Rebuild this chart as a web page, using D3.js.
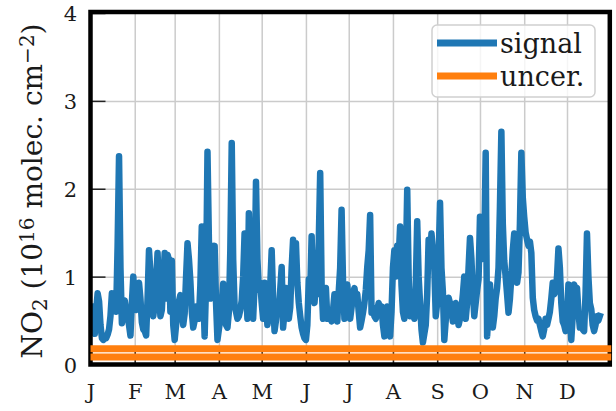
<!DOCTYPE html>
<html>
<head>
<meta charset="utf-8">
<script src="https://cdn.jsdelivr.net/npm/d3@7"></script>
<style>
  body { margin: 0; background: #fff; }
</style>
</head>
<body>
<svg id="chart" width="616" height="411"></svg>
<script>
// month starts (day of year) and their labels
var monthTicks = [0, 31, 59, 90, 120, 151, 181, 212, 243, 273, 304, 334];
var monthLabels = ["J", "F", "M", "A", "M", "J", "J", "A", "S", "O", "N", "D"];
var yTicks = [0, 1, 2, 3, 4];

// daily NO2 signal, 1e16 molec/cm2 (null = no data)
var signalJan = [null, null, 0.66, 0.35, 0.62, 0.81, 0.72, 0.45, 0.30, 0.28, 0.33, 0.30, 0.34, 0.40, 0.55, 0.81, 0.70, 0.78, 0.60, 1.35, 2.37, 1.10, 0.47, 0.62, 0.73, 0.60, 0.54, 0.45, 0.33, 0.70, 1.00];
var signalFeb = [0.70, 0.62, 0.80, 0.93, 0.75, 0.48, 0.40, 0.38, 0.33, 0.75, 1.30, 1.05, 0.70, 0.55, 0.68, 0.95, 1.27, 0.85, 0.55, 0.62, 0.95, 1.27, 0.75, 1.25, 1.19, 0.60, 1.18, 0.45];
var signalMar = [0.28, 0.45, 0.60, 0.72, 0.79, 0.62, 0.45, 0.58, 1.00, 1.38, 1.20, 0.95, 0.60, 0.42, 0.50, 0.66, 0.58, 0.52, 0.90, 1.57, 0.85, 0.32, 0.90, 2.42, 1.40, 0.75, 1.35, 1.10, 1.35, 0.70, 0.28];
var signalApr = [0.40, 0.52, 0.70, 0.92, 0.65, 0.45, 0.42, 0.60, 1.30, 2.52, 1.20, 0.66, 0.60, 0.52, 0.55, 0.62, 0.73, 1.00, 1.49, 0.90, 0.52, 1.72, 1.10, 0.60, 0.52, 0.90, 2.08, 1.20, 0.85, 0.93];
var signalMay = [0.70, 0.52, 0.93, 0.70, 0.45, 0.55, 0.90, 1.30, 0.75, 0.38, 0.50, 0.66, 0.60, 0.85, 1.11, 0.42, 0.60, 0.87, 0.70, 0.52, 0.65, 1.10, 1.42, 1.25, 1.38, 0.93, 0.70, 0.55, 0.42, 0.35, 0.30];
var signalJun = [0.28, 0.45, 0.97, 0.80, 1.46, 0.83, 0.70, 0.93, 0.80, 1.40, 2.18, 0.90, 0.52, 0.65, 0.87, 0.52, 0.60, 0.55, 0.49, 0.62, 0.80, 0.65, 0.49, 0.83, 1.10, 1.76, 0.95, 0.52, 0.80, 0.91];
var signalJul = [0.70, 0.52, 0.65, 0.80, 0.87, 0.75, 0.80, 0.60, 0.42, 0.50, 0.59, 0.70, 0.85, 1.11, 1.30, 1.70, 0.59, 0.65, 0.55, 0.52, 0.62, 0.70, 0.60, 0.66, 0.45, 0.32, 0.50, 0.66, 0.45, 0.32, 0.60];
var signalAug = [1.10, 1.30, 1.00, 1.35, 1.20, 1.57, 0.90, 0.60, 0.52, 1.10, 1.99, 1.00, 0.55, 0.62, 0.58, 0.52, 0.90, 1.63, 1.00, 0.70, 0.40, 0.25, 0.35, 0.45, 0.80, 1.42, 1.20, 1.49, 1.30, 1.11, 0.55];
var signalSep = [0.70, 1.20, 1.84, 1.10, 0.83, 0.28, 0.50, 0.65, 0.76, 0.70, 0.66, 0.49, 0.62, 0.70, 0.55, 0.45, 0.52, 0.63, 0.80, 1.00, 0.52, 0.70, 1.10, 1.44, 1.20, 0.83, 0.55, 0.70, 0.85, 0.97];
var signalOct = [1.68, 1.20, 1.65, 1.30, 2.41, 0.32, 0.60, 0.91, 0.65, 0.42, 0.55, 0.75, 0.87, 1.10, 1.80, 2.65, 1.60, 1.18, 1.00, 0.80, 0.59, 0.75, 1.00, 1.30, 1.49, 1.20, 0.93, 1.05, 1.60, 2.41, 1.90];
var signalNov = [1.68, 1.50, 1.42, 1.35, 1.40, 1.27, 0.76, 0.62, 0.55, 0.50, 0.52, 0.45, 0.38, 0.32, 0.40, 0.52, 0.45, 0.52, 0.60, 0.75, 0.93, 0.80, 0.83, 1.00, 1.32, 1.10, 0.70, 0.49, 0.45, 0.38];
var signalDec = [0.50, 0.91, 0.60, 0.28, 0.55, 0.91, 0.85, 0.87, 0.60, 0.42, 0.45, 0.40, 0.38, 0.80, 1.49, 1.00, 0.70, 0.63, 0.45, 0.38, 0.45, 0.55, 0.50, 0.55, null, null, null, null, null, null, null];

// uncertainty levels (two flat lines)
var uncerLevels = [0.18, 0.085];

var signal = [].concat(signalJan, signalFeb, signalMar, signalApr, signalMay, signalJun,
    signalJul, signalAug, signalSep, signalOct, signalNov, signalDec)
    .map(function (v, i) { return { day: i, v: v }; });

var serif = "'DejaVu Serif', 'Liberation Serif', serif";
var svg = d3.select("#chart");
var plotL = 90.5, plotR = 609.8, plotT = 13, plotB = 364.5;

var x = d3.scaleLinear().domain([0, 364]).range([plotL, plotR]);
var y = d3.scaleLinear().domain([0, 4]).range([plotB, plotT]);

// grid
svg.append("g")
    .attr("transform", "translate(0," + plotB + ")")
    .call(d3.axisBottom(x).tickValues(monthTicks.slice(1)).tickSize(-(plotB - plotT)).tickFormat(""))
    .call(g => g.select(".domain").remove())
    .selectAll("line").attr("stroke", "#cbcbcb").attr("stroke-width", 1.5);
svg.append("g")
    .attr("transform", "translate(" + plotL + ",0)")
    .call(d3.axisLeft(y).tickValues([1, 2, 3]).tickSize(-(plotR - plotL)).tickFormat(""))
    .call(g => g.select(".domain").remove())
    .selectAll("line").attr("stroke", "#cbcbcb").attr("stroke-width", 1.5);

// axes with inward ticks
var xAxis = svg.append("g")
    .attr("transform", "translate(0," + plotB + ")")
    .call(d3.axisBottom(x).tickValues(monthTicks).tickSize(-15).tickPadding(0)
        .tickFormat((d, i) => monthLabels[i]));
xAxis.select(".domain").remove();
xAxis.selectAll("line").attr("stroke", "#222").attr("stroke-width", 1.5);
xAxis.selectAll("text").attr("y", 34.5).attr("dy", null)
    .style("font-size", "21px").style("font-family", serif).style("fill", "#1a1a1a");

var yAxis = svg.append("g")
    .attr("transform", "translate(" + plotL + ",0)")
    .call(d3.axisLeft(y).tickValues(yTicks).tickSize(-15).tickPadding(13.5).tickFormat(d3.format("d")));
yAxis.select(".domain").remove();
yAxis.selectAll("line").attr("stroke", "#222").attr("stroke-width", 1.5);
yAxis.selectAll("text").attr("dy", "0.36em")
    .style("font-size", "21px").style("font-family", serif).style("fill", "#1a1a1a");

// signal line
var line = d3.line()
    .defined(d => d.v != null)
    .x(d => x(d.day))
    .y(d => y(d.v));

svg.append("path")
    .datum(signal)
    .attr("d", line)
    .attr("fill", "none")
    .attr("stroke", "#1f77b4")
    .attr("stroke-width", 6.5)
    .attr("stroke-linejoin", "round")
    .attr("stroke-linecap", "square");

// spines
svg.append("rect")
    .attr("x", plotL).attr("y", plotT - 1)
    .attr("width", plotR - plotL).attr("height", plotB - plotT + 1)
    .attr("fill", "none").attr("stroke", "#000").attr("stroke-width", 4.5);

// uncertainty lines
svg.selectAll(".uncer")
    .data(uncerLevels)
    .enter().append("line")
    .attr("class", "uncer")
    .attr("x1", x(0)).attr("x2", x(365))
    .attr("y1", d => y(d)).attr("y2", d => y(d))
    .attr("stroke", "#ff7f0e")
    .attr("stroke-width", 7);

// y label
svg.append("text")
    .attr("transform", "translate(42,191) rotate(-90)")
    .attr("text-anchor", "middle")
    .style("font-family", serif)
    .style("font-size", "28px")
    .style("fill", "#1a1a1a")
    .call(t => {
        t.append("tspan").text("NO");
        t.append("tspan").attr("baseline-shift", "-25%").style("font-size", "20px").text("2");
        t.append("tspan").text(" (10");
        t.append("tspan").attr("baseline-shift", "40%").style("font-size", "20px").text("16");
        t.append("tspan").text(" molec. cm");
        t.append("tspan").attr("baseline-shift", "40%").style("font-size", "20px").text("\u22122");
        t.append("tspan").text(")");
    });

// legend
var legend = svg.append("g");
legend.append("rect")
    .attr("x", 432).attr("y", 25).attr("width", 163).attr("height", 72)
    .attr("rx", 5)
    .attr("fill", "#fff").attr("fill-opacity", 0.8)
    .attr("stroke", "#d0d0d0").attr("stroke-width", 1.5);

var legendItems = [
    { label: "signal", color: "#1f77b4", y: 43 },
    { label: "uncer.", color: "#ff7f0e", y: 76 }
];
legend.selectAll(".item")
    .data(legendItems)
    .enter().append("g")
    .attr("class", "item")
    .each(function (d) {
        var g = d3.select(this);
        g.append("line")
            .attr("x1", 437).attr("x2", 497)
            .attr("y1", d.y).attr("y2", d.y)
            .attr("stroke", d.color).attr("stroke-width", 7);
        g.append("text")
            .attr("x", 500).attr("y", d.y + 9.5)
            .style("font-family", serif)
            .style("font-size", "27px")
            .style("fill", "#1a1a1a")
            .text(d.label);
    });
</script>
</body>
</html>
